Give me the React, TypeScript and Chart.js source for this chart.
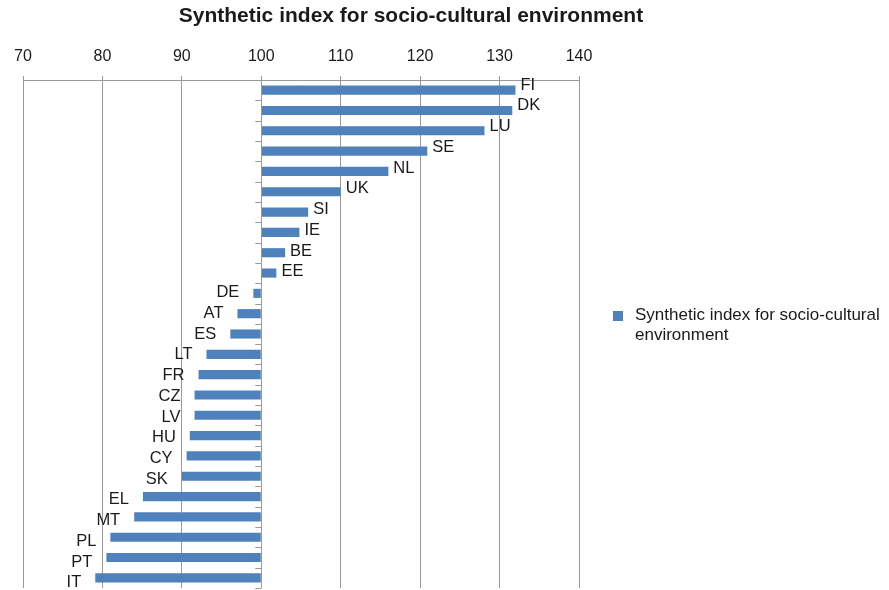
import React, { useEffect, useRef } from "react";
import { Chart, registerables } from "chart.js";

Chart.register(...registerables);

const TITLE = "Synthetic index for socio-cultural environment";
const SERIES_NAME = "Synthetic index for socio-cultural environment";
const COUNTRIES = ["FI", "DK", "LU", "SE", "NL", "UK", "SI", "IE", "BE", "EE", "DE", "AT", "ES", "LT", "FR", "CZ", "LV", "HU", "CY", "SK", "EL", "MT", "PL", "PT", "IT"];
const VALUES = [132.0, 131.6, 128.1, 120.9, 116.0, 110.0, 105.9, 104.8, 103.0, 101.9, 99.0, 97.0, 96.1, 93.1, 92.1, 91.6, 91.6, 91.0, 90.6, 90.0, 85.1, 84.0, 81.0, 80.5, 79.1];
const X_MIN = 70;
const X_MAX = 140;
const X_STEP = 10;
const BASE_VALUE = 100;

const BAR_COLOR = "#4F81BD";
const GRID_COLOR = "#9a9a9a";
const TEXT_COLOR = "#1a1a1a";
const FONT = "'Liberation Sans', Arial, sans-serif";

const labelsPlugin = {
  id: "barEndLabels",
  afterDatasetsDraw(chart: any) {
    const ctx = chart.ctx;
    const meta = chart.getDatasetMeta(0);
    const n = meta.data.length;
    ctx.save();
    ctx.font = `16.5px ${FONT}`;
    ctx.fillStyle = TEXT_COLOR;
    ctx.textBaseline = "middle";
    meta.data.forEach((el: any, i: number) => {
      const v = VALUES[i];
      const dy = (i - (n - 1) / 2) * 0.42;
      if (v >= BASE_VALUE) {
        ctx.textAlign = "left";
        ctx.fillText(COUNTRIES[i], el.x + 5, el.y + dy);
      } else {
        ctx.textAlign = "right";
        ctx.fillText(COUNTRIES[i], el.x - 14, el.y + dy);
      }
    });
    ctx.restore();
  },
};

const categoryTicksPlugin = {
  id: "categoryTicks",
  afterDatasetsDraw(chart: any) {
    const ctx = chart.ctx;
    const xs = chart.scales.x;
    const area = chart.chartArea;
    const x0 = xs.getPixelForValue(BASE_VALUE);
    const n = COUNTRIES.length;
    const band = (area.bottom - area.top) / n;
    ctx.save();
    ctx.strokeStyle = GRID_COLOR;
    ctx.lineWidth = 1;
    ctx.beginPath();
    ctx.moveTo(Math.round(x0) + 0.5, area.top);
    ctx.lineTo(Math.round(x0) + 0.5, area.bottom);
    for (let i = 1; i <= n; i++) {
      const y = Math.round(area.top + i * band) + 0.5;
      ctx.moveTo(x0 - 6, y);
      ctx.lineTo(x0, y);
    }
    ctx.stroke();
    ctx.restore();
  },
};

export default function App() {
  const ref = useRef<HTMLCanvasElement | null>(null);

  useEffect(() => {
    if (!ref.current) return;
    const chart = new Chart(ref.current, {
      type: "bar",
      data: {
        labels: COUNTRIES,
        datasets: [
          {
            label: SERIES_NAME,
            data: VALUES,
            base: BASE_VALUE,
            backgroundColor: BAR_COLOR,
            borderWidth: 0,
            categoryPercentage: 1,
            barPercentage: 0.45,
          } as any,
        ],
      },
      options: {
        indexAxis: "y",
        animation: false,
        responsive: false,
        maintainAspectRatio: false,
        layout: { padding: { left: 23, right: 310, top: 0, bottom: 2 } },
        plugins: {
          legend: { display: false },
          title: { display: false },
          tooltip: { enabled: false },
        },
        scales: {
          x: {
            type: "linear",
            position: "top",
            min: X_MIN,
            max: X_MAX,
            ticks: {
              stepSize: X_STEP,
              color: TEXT_COLOR,
              font: { family: FONT, size: 16 },
              padding: 10,
            },
            grid: { color: GRID_COLOR, tickLength: 4, lineWidth: 1 },
            border: { color: GRID_COLOR, width: 1 },
            afterFit: (scale: any) => {
              scale.height = 80;
            },
          },
          y: {
            type: "category",
            display: false,
          },
        },
      },
      plugins: [categoryTicksPlugin, labelsPlugin],
    });
    return () => chart.destroy();
  }, []);

  return (
    <div style={{ position: "absolute", left: 0, top: 0, width: 889, height: 590, overflow: "hidden", background: "#fff" }}>
      <canvas ref={ref} width={889} height={590} style={{ position: "absolute", left: 0, top: 0 }} />
      <div
        style={{
          position: "absolute",
          left: 0,
          top: 0,
          width: 822,
          textAlign: "center",
          fontFamily: FONT,
          fontWeight: "bold",
          fontSize: 21,
          lineHeight: "30px",
          color: TEXT_COLOR,
          whiteSpace: "nowrap",
        }}
      >
        {TITLE}
      </div>
      <div style={{ position: "absolute", left: 613, top: 311, width: 10, height: 10, background: BAR_COLOR }} />
      <div
        style={{
          position: "absolute",
          left: 635,
          top: 305,
          width: 254,
          fontFamily: FONT,
          fontSize: 17,
          lineHeight: "20px",
          color: TEXT_COLOR,
        }}
      >
        {SERIES_NAME}
      </div>
    </div>
  );
}
